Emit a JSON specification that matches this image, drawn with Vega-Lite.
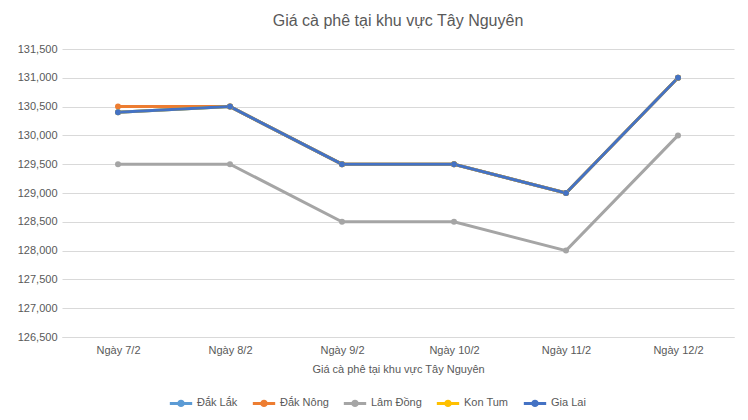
{
  "$schema": "https://vega.github.io/schema/vega-lite/v6.json",
  "width": 672,
  "height": 288,
  "autosize": {"type": "none"},
  "padding": {"left": 62, "top": 49, "right": 14, "bottom": 83},
  "background": "white",
  "title": {
    "text": "Giá cà phê tại khu vực Tây Nguyên",
    "font": "Liberation Sans",
    "fontSize": 16,
    "fontWeight": "normal",
    "color": "#595959",
    "anchor": "middle",
    "offset": 14
  },
  "data": {
    "values": [
      {"day": "Ngày 7/2", "region": "Đắk Lắk", "price": 130400},
      {"day": "Ngày 8/2", "region": "Đắk Lắk", "price": 130500},
      {"day": "Ngày 9/2", "region": "Đắk Lắk", "price": 129500},
      {"day": "Ngày 10/2", "region": "Đắk Lắk", "price": 129500},
      {"day": "Ngày 11/2", "region": "Đắk Lắk", "price": 129000},
      {"day": "Ngày 12/2", "region": "Đắk Lắk", "price": 131000},
      {"day": "Ngày 7/2", "region": "Đắk Nông", "price": 130500},
      {"day": "Ngày 8/2", "region": "Đắk Nông", "price": 130500},
      {"day": "Ngày 9/2", "region": "Đắk Nông", "price": 129500},
      {"day": "Ngày 10/2", "region": "Đắk Nông", "price": 129500},
      {"day": "Ngày 11/2", "region": "Đắk Nông", "price": 129000},
      {"day": "Ngày 12/2", "region": "Đắk Nông", "price": 131000},
      {"day": "Ngày 7/2", "region": "Lâm Đồng", "price": 129500},
      {"day": "Ngày 8/2", "region": "Lâm Đồng", "price": 129500},
      {"day": "Ngày 9/2", "region": "Lâm Đồng", "price": 128500},
      {"day": "Ngày 10/2", "region": "Lâm Đồng", "price": 128500},
      {"day": "Ngày 11/2", "region": "Lâm Đồng", "price": 128000},
      {"day": "Ngày 12/2", "region": "Lâm Đồng", "price": 130000},
      {"day": "Ngày 7/2", "region": "Kon Tum", "price": 130400},
      {"day": "Ngày 8/2", "region": "Kon Tum", "price": 130500},
      {"day": "Ngày 9/2", "region": "Kon Tum", "price": 129500},
      {"day": "Ngày 10/2", "region": "Kon Tum", "price": 129500},
      {"day": "Ngày 11/2", "region": "Kon Tum", "price": 129000},
      {"day": "Ngày 12/2", "region": "Kon Tum", "price": 131000},
      {"day": "Ngày 7/2", "region": "Gia Lai", "price": 130400},
      {"day": "Ngày 8/2", "region": "Gia Lai", "price": 130500},
      {"day": "Ngày 9/2", "region": "Gia Lai", "price": 129500},
      {"day": "Ngày 10/2", "region": "Gia Lai", "price": 129500},
      {"day": "Ngày 11/2", "region": "Gia Lai", "price": 129000},
      {"day": "Ngày 12/2", "region": "Gia Lai", "price": 131000}
    ]
  },
  "mark": {"type": "line", "strokeWidth": 3, "point": {"filled": true, "size": 36}},
  "encoding": {
    "x": {
      "field": "day",
      "type": "ordinal",
      "sort": null,
      "scale": {"type": "point", "padding": 0.5},
      "axis": {
        "title": "Giá cà phê tại khu vực Tây Nguyên",
        "titleFont": "Liberation Sans",
        "titleFontSize": 11,
        "titleFontWeight": "normal",
        "titleColor": "#595959",
        "titlePadding": 8,
        "labelFont": "Liberation Sans",
        "labelFontSize": 11,
        "labelColor": "#595959",
        "labelAngle": 0,
        "labelPadding": 7,
        "ticks": false,
        "domainColor": "#d9d9d9",
        "domainWidth": 1,
        "grid": false
      }
    },
    "y": {
      "field": "price",
      "type": "quantitative",
      "scale": {"domain": [126500, 131500], "zero": false, "nice": false},
      "axis": {
        "title": null,
        "values": [126500, 127000, 127500, 128000, 128500, 129000, 129500, 130000, 130500, 131000, 131500],
        "format": ",d",
        "labelFont": "Liberation Sans",
        "labelFontSize": 11,
        "labelColor": "#595959",
        "labelPadding": 5,
        "ticks": false,
        "domain": false,
        "gridColor": "#d9d9d9",
        "gridWidth": 1
      }
    },
    "color": {
      "field": "region",
      "type": "nominal",
      "sort": ["Đắk Lắk", "Đắk Nông", "Lâm Đồng", "Kon Tum", "Gia Lai"],
      "scale": {
        "domain": ["Đắk Lắk", "Đắk Nông", "Lâm Đồng", "Kon Tum", "Gia Lai"],
        "range": ["#5B9BD5", "#ED7D31", "#A5A5A5", "#FFC000", "#4472C4"]
      },
      "legend": {
        "title": null,
        "orient": "none",
        "direction": "horizontal",
        "legendX": 106,
        "legendY": 341,
        "labelFont": "Liberation Sans",
        "labelFontSize": 11,
        "labelColor": "#595959",
        "symbolType": "M-1,0H1M-0.2,0A0.2,0.2 0 1,1 0.2,0A0.2,0.2 0 1,1 -0.2,0",
        "symbolSize": 500,
        "symbolStrokeWidth": 3,
        "labelOffset": 3,
        "columnPadding": 8
      }
    }
  },
  "config": {"view": {"stroke": null}}
}
